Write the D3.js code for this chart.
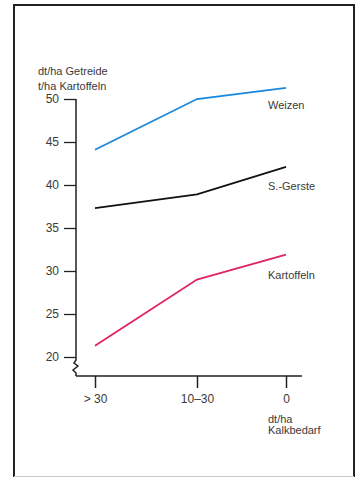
<!DOCTYPE html>
<html><head><meta charset="utf-8">
<script src="https://cdn.jsdelivr.net/npm/d3@7"></script>
<style>
html,body{margin:0;padding:0;background:#fff;}
svg{display:block;}
text{font-family:"Liberation Sans",Arial,sans-serif;fill:#3a3a3a;}
</style></head>
<body><svg id="c" width="357" height="478"></svg>
<script>
const categories = ["> 30", "10–30", "0"];
const weizen = [44.1, 50.0, 51.3];
const gerste = [37.3, 38.9, 42.1];
const kartoffeln = [21.3, 29.0, 31.9];
const yTicks = [20, 25, 30, 35, 40, 45, 50];
const seriesNames = ["Weizen", "S.-Gerste", "Kartoffeln"];
const seriesLabelY = [49.3, 39.9, 29.5];
const colors = ["#1888de", "#111111", "#e0245e"];

const svg = d3.select("#c");
// frame
svg.append("path").attr("d","M14,477 L14,5 L354,5 L354,477")
  .attr("fill","none").attr("stroke","#222").attr("stroke-width",2);
svg.append("line").attr("x1",14).attr("x2",354).attr("y1",476.5).attr("y2",476.5)
  .attr("stroke","#ccc").attr("stroke-width",1);

const x = d3.scaleOrdinal().domain(categories).range([95, 197, 286]);
const y = d3.scaleLinear().domain([20, 50]).range([357, 99]);

// y axis
const yAxis = d3.axisLeft(y).tickValues(yTicks).tickSize(12).tickPadding(5);
const gy = svg.append("g").attr("transform","translate(76,0)").call(yAxis);
gy.select(".domain").remove();
gy.selectAll(".tick line").attr("stroke","#222").attr("stroke-width",1.3);
gy.selectAll(".tick text").style("font-size","12px").attr("fill","#3a3a3a");
svg.append("path").attr("d","M76,99 L76,360 L74,363 L78,366 L73,370 L76,373 L76,376")
  .attr("fill","none").attr("stroke","#222").attr("stroke-width",1.5);

// x axis
const xAxis = d3.axisBottom(x).tickSize(12).tickPadding(6);
const gx = svg.append("g").attr("transform","translate(0,376)").call(xAxis);
gx.select(".domain").remove();
svg.append("line").attr("x1",76).attr("x2",302).attr("y1",376).attr("y2",376)
  .attr("stroke","#222").attr("stroke-width",1.5);
gx.selectAll(".tick line").attr("stroke","#222").attr("stroke-width",1.5);
gx.selectAll(".tick text").style("font-size","12px").attr("fill","#3a3a3a");

// axis titles
svg.append("text").attr("x",38).attr("y",75).style("font-size","11px").text("dt/ha Getreide");
svg.append("text").attr("x",38).attr("y",90).style("font-size","11px").text("t/ha Kartoffeln");
svg.append("text").attr("x",268).attr("y",423).style("font-size","11px").text("dt/ha");
svg.append("text").attr("x",268).attr("y",434).style("font-size","11px").text("Kalkbedarf");

// lines
const line = d3.line().x((d,i)=>x(categories[i])).y(d=>y(d));
[weizen, gerste, kartoffeln].forEach((s,k)=>{
  svg.append("path").datum(s).attr("d", line).attr("fill","none")
    .attr("stroke", colors[k]).attr("stroke-width", 1.8);
  svg.append("text").attr("x",268).attr("y",y(seriesLabelY[k])+4)
    .style("font-size","11px").text(seriesNames[k]);
});
</script></body></html>
